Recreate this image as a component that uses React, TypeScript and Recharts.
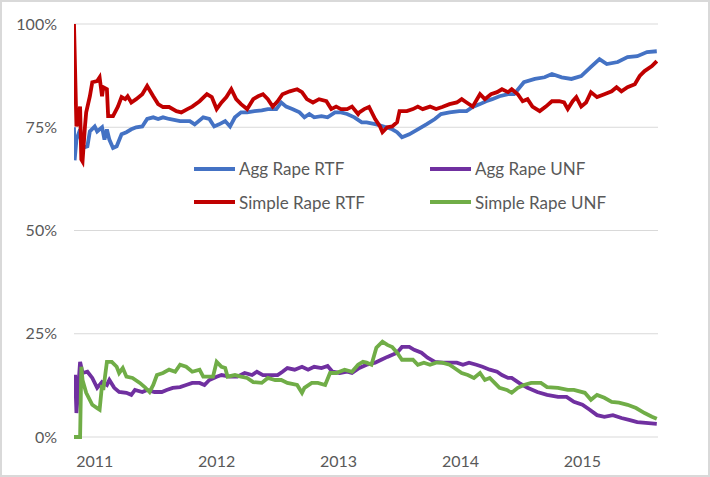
import { LineChart, Line, XAxis, YAxis, CartesianGrid, Legend } from 'recharts'

// decimal years / percent
const aggRtfT = [2010.83, 2010.835, 2010.85, 2010.88, 2010.90, 2010.94, 2010.96, 2011.00, 2011.02, 2011.06, 2011.08, 2011.10, 2011.12, 2011.15, 2011.18, 2011.22, 2011.26, 2011.30, 2011.34, 2011.39, 2011.43, 2011.48, 2011.52, 2011.56, 2011.61, 2011.70, 2011.78, 2011.82, 2011.89, 2011.94, 2011.98, 2012.02, 2012.07, 2012.11, 2012.15, 2012.20, 2012.25, 2012.31, 2012.37, 2012.42, 2012.49, 2012.53, 2012.57, 2012.62, 2012.68, 2012.72, 2012.76, 2012.80, 2012.86, 2012.91, 2012.97, 2013.02, 2013.07, 2013.13, 2013.19, 2013.23, 2013.31, 2013.39, 2013.44, 2013.48, 2013.52, 2013.58, 2013.65, 2013.72, 2013.79, 2013.84, 2013.91, 2013.99, 2014.05, 2014.10, 2014.16, 2014.21, 2014.26, 2014.32, 2014.39, 2014.44, 2014.52, 2014.61, 2014.69, 2014.75, 2014.83, 2014.91, 2014.99, 2015.07, 2015.14, 2015.20, 2015.29, 2015.37, 2015.45, 2015.53, 2015.61]
const aggRtfV = [75, 67, 72, 74.5, 70, 70.4, 74, 75.2, 74, 75, 72, 74.5, 72, 70, 70.4, 73.3, 73.8, 74.5, 75, 75.2, 77, 77.4, 77, 77.4, 77, 76.5, 76.5, 75.7, 77.4, 77, 75.2, 75.7, 76.5, 75.2, 77.4, 78.6, 78.6, 78.9, 79.1, 79.4, 79.4, 81, 80, 79.4, 78.6, 77.4, 78.2, 77.4, 77.7, 77.4, 78.6, 78.6, 78.2, 77.4, 76.2, 76.2, 75.7, 75, 74.5, 73.8, 72.6, 73.3, 74.5, 75.7, 77, 78.2, 78.6, 78.9, 78.9, 79.9, 80.6, 81.3, 81.8, 82.5, 83, 83, 85.9, 86.7, 87.1, 87.9, 87.1, 86.7, 87.4, 89.6, 91.5, 90.3, 90.8, 92, 92.2, 93.2, 93.4]

const simpleRtfT = [2010.83, 2010.85, 2010.88, 2010.89, 2010.90, 2010.92, 2010.93, 2010.96, 2010.98, 2011.02, 2011.04, 2011.06, 2011.07, 2011.10, 2011.11, 2011.15, 2011.19, 2011.22, 2011.25, 2011.27, 2011.30, 2011.34, 2011.39, 2011.43, 2011.48, 2011.52, 2011.56, 2011.61, 2011.67, 2011.71, 2011.76, 2011.80, 2011.86, 2011.92, 2011.96, 2012.00, 2012.04, 2012.08, 2012.12, 2012.16, 2012.20, 2012.25, 2012.30, 2012.34, 2012.38, 2012.42, 2012.46, 2012.50, 2012.54, 2012.60, 2012.66, 2012.70, 2012.74, 2012.79, 2012.84, 2012.90, 2012.94, 2012.98, 2013.02, 2013.07, 2013.11, 2013.16, 2013.17, 2013.21, 2013.25, 2013.30, 2013.34, 2013.36, 2013.40, 2013.44, 2013.48, 2013.50, 2013.56, 2013.61, 2013.65, 2013.69, 2013.75, 2013.80, 2013.85, 2013.91, 2013.97, 2014.01, 2014.05, 2014.10, 2014.16, 2014.20, 2014.25, 2014.30, 2014.34, 2014.39, 2014.42, 2014.47, 2014.51, 2014.55, 2014.59, 2014.65, 2014.70, 2014.75, 2014.81, 2014.85, 2014.88, 2014.92, 2014.95, 2014.99, 2015.03, 2015.07, 2015.12, 2015.18, 2015.24, 2015.28, 2015.32, 2015.37, 2015.43, 2015.47, 2015.51, 2015.57, 2015.61]
const simpleRtfV = [100, 75.2, 80, 67.2, 66.7, 75.2, 78.6, 82.5, 85.9, 86.2, 87.1, 82.5, 84.7, 84.2, 77.7, 77.7, 80, 82.3, 81.8, 82.5, 81, 81.8, 83, 85, 82.5, 80.6, 79.9, 79.9, 78.9, 78.6, 79.4, 80, 81.3, 83, 82.3, 79.4, 81, 82.3, 84.2, 81.8, 80.6, 79.4, 81.8, 82.5, 83, 81.8, 80, 81.3, 83, 83.7, 84.2, 83.5, 81.8, 81, 81.8, 81.3, 79.4, 80, 79.4, 79.4, 80, 78.2, 78.6, 79.4, 79.9, 77, 75.2, 73.8, 75, 75.2, 76.2, 78.9, 78.9, 79.4, 80, 79.4, 80, 79.4, 79.9, 80.6, 81, 81.8, 81, 80, 83, 81.8, 83, 83.5, 84.2, 83.5, 84.2, 83, 81.3, 81.8, 80, 78.9, 80, 81.3, 81.3, 81, 79.4, 81.3, 82.3, 80, 81, 83.5, 82.3, 83, 83.7, 84.7, 83.7, 84.7, 85.4, 87.4, 88.6, 89.8, 91]

const aggUnfT = [2010.83, 2010.84, 2010.85, 2010.88, 2010.90, 2010.94, 2010.98, 2011.02, 2011.06, 2011.10, 2011.12, 2011.16, 2011.20, 2011.26, 2011.30, 2011.33, 2011.39, 2011.43, 2011.49, 2011.55, 2011.59, 2011.64, 2011.70, 2011.75, 2011.80, 2011.86, 2011.90, 2011.94, 2012.00, 2012.04, 2012.11, 2012.17, 2012.23, 2012.29, 2012.33, 2012.38, 2012.43, 2012.50, 2012.54, 2012.58, 2012.64, 2012.70, 2012.75, 2012.80, 2012.86, 2012.91, 2012.95, 2013.01, 2013.07, 2013.11, 2013.17, 2013.23, 2013.30, 2013.35, 2013.40, 2013.48, 2013.52, 2013.58, 2013.62, 2013.68, 2013.73, 2013.79, 2013.85, 2013.91, 2013.97, 2014.02, 2014.07, 2014.13, 2014.18, 2014.24, 2014.30, 2014.34, 2014.39, 2014.42, 2014.48, 2014.55, 2014.63, 2014.71, 2014.80, 2014.87, 2014.93, 2015.00, 2015.06, 2015.12, 2015.18, 2015.25, 2015.32, 2015.39, 2015.45, 2015.52, 2015.61]
const aggUnfV = [14.6, 14.6, 5.8, 18.2, 15.5, 15.8, 14.3, 11.9, 13.3, 12.6, 13.8, 11.9, 10.9, 10.7, 10.2, 11.4, 10.9, 11.4, 10.9, 10.9, 11.4, 11.9, 12.1, 12.6, 13.1, 13.1, 12.6, 13.8, 14.6, 15, 14.6, 14.6, 15.5, 15, 15.8, 15, 15, 15, 15.8, 16.7, 16.3, 17, 16.3, 17, 16.7, 17.2, 15.8, 15.5, 15.8, 15.5, 16.7, 17.5, 18, 18.7, 19.4, 20.4, 21.8, 21.8, 21.1, 20.4, 19.2, 18.2, 18, 18, 18, 17.5, 18, 17.5, 17, 16.3, 15.8, 15, 14.3, 14.3, 13.1, 11.9, 10.9, 10.2, 9.7, 9.7, 8.5, 7.8, 6.6, 5.3, 4.9, 5.3, 4.6, 4.1, 3.6, 3.4, 3.2]

const simpleUnfT = [2010.83, 2010.88, 2010.89, 2010.90, 2010.93, 2010.98, 2011.02, 2011.04, 2011.06, 2011.07, 2011.10, 2011.14, 2011.18, 2011.20, 2011.23, 2011.26, 2011.31, 2011.37, 2011.41, 2011.45, 2011.48, 2011.51, 2011.56, 2011.61, 2011.66, 2011.70, 2011.75, 2011.80, 2011.86, 2011.89, 2011.97, 2012.00, 2012.04, 2012.07, 2012.09, 2012.15, 2012.20, 2012.25, 2012.30, 2012.37, 2012.42, 2012.48, 2012.53, 2012.58, 2012.66, 2012.70, 2012.72, 2012.78, 2012.83, 2012.89, 2012.93, 2012.98, 2013.05, 2013.11, 2013.16, 2013.20, 2013.23, 2013.27, 2013.31, 2013.36, 2013.40, 2013.44, 2013.48, 2013.52, 2013.56, 2013.61, 2013.65, 2013.70, 2013.75, 2013.80, 2013.85, 2013.91, 2013.95, 2014.01, 2014.06, 2014.11, 2014.16, 2014.20, 2014.24, 2014.28, 2014.32, 2014.38, 2014.42, 2014.47, 2014.52, 2014.58, 2014.66, 2014.71, 2014.80, 2014.88, 2014.93, 2015.02, 2015.07, 2015.12, 2015.18, 2015.24, 2015.30, 2015.37, 2015.44, 2015.51, 2015.57, 2015.61]
const simpleUnfV = [0, 0, 17, 13.8, 10.7, 7.8, 7, 6.6, 12.6, 11.4, 18.2, 18.2, 17, 15.5, 16.7, 14.6, 14.3, 13.1, 12.1, 10.9, 12.6, 15, 15.5, 16.3, 15.8, 17.5, 17, 15.8, 16.3, 14.6, 14.6, 18.2, 17, 16.7, 14.6, 15, 14.6, 14.3, 13.3, 13.1, 14.3, 13.8, 13.8, 13.1, 12.6, 10.7, 11.9, 13.1, 13.1, 12.6, 15.5, 15.5, 16.3, 15.8, 17.5, 18.2, 18, 17.5, 21.6, 23.1, 22.3, 21.8, 20.4, 18.7, 18.7, 18.7, 17.5, 18, 17.5, 18, 18, 17.5, 16.7, 15.5, 15, 14.3, 15.5, 13.8, 14.3, 13.1, 11.9, 11.4, 10.7, 11.9, 12.6, 13.1, 13.1, 12.1, 11.9, 11.4, 11.4, 10.7, 9, 10.2, 9.5, 8.5, 8.3, 7.8, 7, 5.8, 4.9, 4.4]

const yearTicks = [2011, 2012, 2013, 2014, 2015]
const pctTicks = [0, 25, 50, 75, 100]

const seriesNames = ['Agg Rape RTF', 'Agg Rape UNF', 'Simple Rape RTF', 'Simple Rape UNF']
const seriesColors = ['#4472C4', '#7030A0', '#C00000', '#70AD47']

const toRows = (t: number[], v: number[]) => t.map((x, i) => ({ t: x, v: v[i] }))

const series = [
  { name: seriesNames[0], color: seriesColors[0], data: toRows(aggRtfT, aggRtfV) },
  { name: seriesNames[1], color: seriesColors[1], data: toRows(aggUnfT, aggUnfV) },
  { name: seriesNames[2], color: seriesColors[2], data: toRows(simpleRtfT, simpleRtfV) },
  { name: seriesNames[3], color: seriesColors[3], data: toRows(simpleUnfT, simpleUnfV) },
]

const FONT = 'Lato, "Open Sans", sans-serif'
const TEXT = '#595959'

function LegendBox() {
  return (
    <div style={{ display: 'grid', gridTemplateColumns: '236px 236px', fontFamily: FONT, fontSize: 17, color: TEXT }}>
      {series.map(s => (
        <div key={s.name} style={{ display: 'flex', alignItems: 'center', height: 33.5 }}>
          <span style={{ display: 'inline-block', width: 41, height: 4, background: s.color, marginRight: 4 }} />
          <span>{s.name}</span>
        </div>
      ))}
    </div>
  )
}

export default function App() {
  return (
    <div style={{ position: 'absolute', left: 0, top: 0, width: 710, height: 477, background: '#fff' }}>
      <LineChart width={710} height={477} margin={{ top: 24, right: 52, bottom: 10, left: 0 }}>
        <CartesianGrid vertical={false} stroke="#d9d9d9" strokeWidth={1} />
        <XAxis dataKey="t" type="number" domain={[2010.83, 2015.62]} ticks={yearTicks} allowDataOverflow
          height={30} axisLine={false} tickLine={false} tickSize={0} tickMargin={19}
          tick={{ fill: TEXT, fontSize: 16, fontFamily: FONT }} />
        <YAxis type="number" domain={[0, 100]} ticks={pctTicks} width={74}
          axisLine={false} tickLine={false} tickSize={0} tickMargin={17}
          tickFormatter={(v: number) => `${v}%`}
          tick={{ fill: TEXT, fontSize: 16, fontFamily: FONT }} />
        {series.map(s => (
          <Line key={s.name} data={s.data} dataKey="v" name={s.name} type="linear" stroke={s.color}
            strokeWidth={3.8} dot={false} isAnimationActive={false} />
        ))}
        <Legend verticalAlign="middle" align="center" layout="horizontal" content={() => <LegendBox />}
          wrapperStyle={{ top: 152, left: 194, width: 480, height: 67 }} />
      </LineChart>
      <div style={{ position: 'absolute', inset: 0, border: '2px solid #d9d9d9', pointerEvents: 'none' }} />
    </div>
  )
}
